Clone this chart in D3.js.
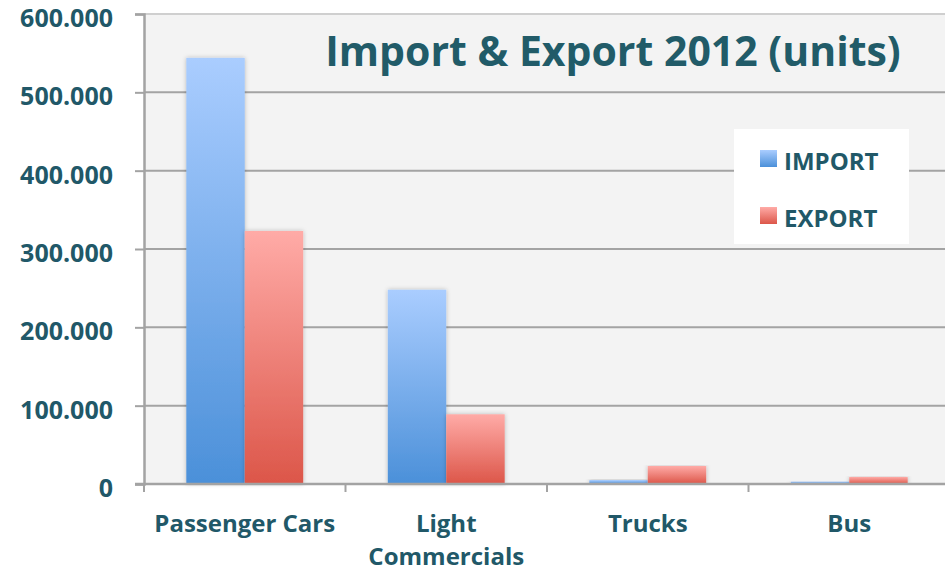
<!DOCTYPE html>
<html>
<head>
<meta charset="utf-8">
<script src="https://cdn.jsdelivr.net/npm/d3@7"></script>
<style>
  body { margin: 0; background: #fff; }
  text { font-family: "Open Sans", sans-serif; font-weight: bold; fill: #215868; }
</style>
</head>
<body>
<div id="chart"></div>
<script>
const categories = ["Passenger Cars", "Light\nCommercials", "Trucks", "Bus"];
const importValues = [544000, 248000, 5000, 3000];
const exportValues = [323000, 89000, 23000, 9000];
const yTicks = [0, 100000, 200000, 300000, 400000, 500000, 600000];
const seriesNames = ["IMPORT", "EXPORT"];

const w = 945, h = 571;
const plotLeft = 144, plotRight = 950, plotTop = 14, plotBottom = 484;

const svg = d3.select("#chart").append("svg")
    .attr("width", w)
    .attr("height", h);

const defs = svg.append("defs");
function grad(id, c1, c2) {
  const g = defs.append("linearGradient").attr("id", id)
      .attr("x1", 0).attr("y1", 0).attr("x2", 0).attr("y2", 1);
  g.append("stop").attr("offset", "0%").attr("stop-color", c1);
  g.append("stop").attr("offset", "100%").attr("stop-color", c2);
}
grad("gImport", "#aacdff", "#4b90d9");
grad("gExport", "#ffaba7", "#dc5649");

const shadow = defs.append("filter").attr("id", "shadow")
    .attr("x", "-20%").attr("y", "-5%").attr("width", "140%").attr("height", "110%");
shadow.append("feDropShadow").attr("dx", 0).attr("dy", 0)
    .attr("stdDeviation", 2).attr("flood-color", "#000").attr("flood-opacity", 0.25);

const x = d3.scaleBand().domain(categories).range([plotLeft, plotRight]).paddingInner(0.42).paddingOuter(0.21);
const xSub = d3.scaleBand().domain(seriesNames).range([0, x.bandwidth()]);
const y = d3.scaleLinear().domain([0, 600000]).range([plotBottom, plotTop]);

// plot background
svg.append("rect")
    .attr("x", plotLeft).attr("y", plotTop)
    .attr("width", plotRight - plotLeft).attr("height", plotBottom - plotTop)
    .attr("fill", "#f3f3f3");

// gridlines
svg.selectAll("line.grid")
    .data(yTicks.filter(d => d > 0))
    .enter().append("line")
    .attr("class", "grid")
    .attr("x1", plotLeft).attr("x2", plotRight)
    .attr("y1", d => y(d)).attr("y2", d => y(d))
    .style("stroke", d => d === 600000 ? "#cfcfcf" : "#a3a3a3")
    .style("stroke-width", 2);

// bars
const groups = svg.selectAll("g.cat")
    .data(categories)
    .enter().append("g")
    .attr("transform", d => "translate(" + x(d) + ",0)");

groups.selectAll("rect")
    .data((d, i) => [
      {name: "IMPORT", value: importValues[i]},
      {name: "EXPORT", value: exportValues[i]}
    ])
    .enter().append("rect")
    .attr("x", d => xSub(d.name))
    .attr("y", d => y(d.value))
    .attr("width", xSub.bandwidth())
    .attr("height", d => y(0) - y(d.value))
    .attr("fill", d => d.name === "IMPORT" ? "url(#gImport)" : "url(#gExport)")
    .attr("filter", "url(#shadow)");

// axes
const yAxis = d3.axisLeft(y).tickValues(yTicks).tickSize(9)
    .tickFormat(d => d === 0 ? "0" : d3.format(",")(d).replace(/,/g, "."));
const gy = svg.append("g").attr("transform", "translate(" + plotLeft + ",0)").call(yAxis);
gy.select(".domain").style("stroke", "#a3a3a3").style("stroke-width", 2.5);
gy.selectAll(".tick line").style("stroke", "#a3a3a3").style("stroke-width", 2);
gy.selectAll(".tick text")
    .attr("x", -31)
    .attr("dy", "0.5em")
    .style("font-size", "25px")
    .style("fill", "#215868");

// x axis baseline and ticks
svg.append("line")
    .attr("x1", plotLeft - 9).attr("x2", plotRight)
    .attr("y1", plotBottom).attr("y2", plotBottom)
    .style("stroke", "#a3a3a3").style("stroke-width", 2.5);

svg.selectAll("line.xtick")
    .data(categories)
    .enter().append("line")
    .attr("x1", d => x(d) - x.step() * x.paddingOuter())
    .attr("x2", d => x(d) - x.step() * x.paddingOuter())
    .attr("y1", plotBottom).attr("y2", plotBottom + 8)
    .style("stroke", "#a3a3a3").style("stroke-width", 2);

// category labels
const labels = svg.selectAll("text.cat")
    .data(categories)
    .enter().append("text")
    .attr("class", "cat")
    .attr("text-anchor", "middle")
    .attr("x", d => x(d) + x.bandwidth() / 2)
    .attr("y", 532)
    .style("font-size", "24px");
labels.selectAll("tspan")
    .data(d => d.split("\n"))
    .enter().append("tspan")
    .attr("x", function() { return this.parentNode.getAttribute("x"); })
    .attr("dy", (d, i) => i === 0 ? 0 : 33)
    .text(d => d);

// title
svg.append("text")
    .attr("x", 613).attr("y", 66)
    .attr("text-anchor", "middle")
    .style("font-size", "41px")
    .style("fill", "#215b68")
    .text("Import & Export 2012 (units)");

// legend
const legend = svg.append("g");
legend.append("rect")
    .attr("x", 734).attr("y", 129)
    .attr("width", 175).attr("height", 115)
    .attr("fill", "#fff");
const items = legend.selectAll("g")
    .data(seriesNames)
    .enter().append("g")
    .attr("transform", (d, i) => "translate(760," + (150 + i * 57) + ")");
items.append("rect")
    .attr("width", 17).attr("height", 17)
    .attr("fill", d => d === "IMPORT" ? "url(#gImport)" : "url(#gExport)");
items.append("text")
    .attr("x", 24).attr("y", 20)
    .style("font-size", "24px")
    .text(d => d);
</script>
</body>
</html>
